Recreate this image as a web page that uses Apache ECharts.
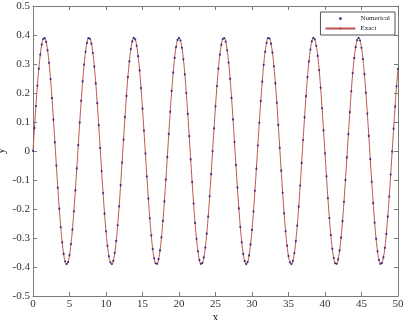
<!DOCTYPE html>
<html><head><meta charset="utf-8">
<script src="https://cdn.jsdelivr.net/npm/echarts@6/dist/echarts.min.js"></script>
<style>html,body{margin:0;padding:0;background:#fff}#c{width:407px;height:320px}</style>
</head><body><div id="c"></div>
<script>
var xs = [0,0.2,0.4,0.6,0.8,1,1.2,1.4,1.6,1.8,2,2.2,2.4,2.6,2.8,3,3.2,3.4,3.6,3.8,4,4.2,4.4,4.6,4.8,5,5.2,5.4,5.6,5.8,6,6.2,6.4,6.6,6.8,7,7.2,7.4,7.6,7.8,8,8.2,8.4,8.6,8.8,9,9.2,9.4,9.6,9.8,10,10.2,10.4,10.6,10.8,11,11.2,11.4,11.6,11.8,12,12.2,12.4,12.6,12.8,13,13.2,13.4,13.6,13.8,14,14.2,14.4,14.6,14.8,15,15.2,15.4,15.6,15.8,16,16.2,16.4,16.6,16.8,17,17.2,17.4,17.6,17.8,18,18.2,18.4,18.6,18.8,19,19.2,19.4,19.6,19.8,20,20.2,20.4,20.6,20.8,21,21.2,21.4,21.6,21.8,22,22.2,22.4,22.6,22.8,23,23.2,23.4,23.6,23.8,24,24.2,24.4,24.6,24.8,25,25.2,25.4,25.6,25.8,26,26.2,26.4,26.6,26.8,27,27.2,27.4,27.6,27.8,28,28.2,28.4,28.6,28.8,29,29.2,29.4,29.6,29.8,30,30.2,30.4,30.6,30.8,31,31.2,31.4,31.6,31.8,32,32.2,32.4,32.6,32.8,33,33.2,33.4,33.6,33.8,34,34.2,34.4,34.6,34.8,35,35.2,35.4,35.6,35.8,36,36.2,36.4,36.6,36.8,37,37.2,37.4,37.6,37.8,38,38.2,38.4,38.6,38.8,39,39.2,39.4,39.6,39.8,40,40.2,40.4,40.6,40.8,41,41.2,41.4,41.6,41.8,42,42.2,42.4,42.6,42.8,43,43.2,43.4,43.6,43.8,44,44.2,44.4,44.6,44.8,45,45.2,45.4,45.6,45.8,46,46.2,46.4,46.6,46.8,47,47.2,47.4,47.6,47.8,48,48.2,48.4,48.6,48.8,49,49.2,49.4,49.6,49.8,50];
var ys = [
0,0.079,0.155,0.225,0.284,0.332,0.367,0.386,0.389,0.376,0.347,0.304,0.248,0.182,0.108,0.030,-0.050,-0.127,-0.199,-0.263,-0.315,-0.355,-0.381,-0.390,-0.383,-0.359,-0.321,-0.271,-0.208,-0.136,-0.060,
0.020,0.098,0.173,0.240,0.298,0.342,0.373,0.389,0.387,0.370,0.338,0.291,0.233,0.165,0.089,0.010,-0.069,-0.145,-0.216,-0.277,-0.327,-0.363,-0.384,-0.390,-0.379,-0.351,-0.310,-0.256,-0.191,-0.118,-0.040,
0.039,0.117,0.190,0.255,0.309,0.351,0.378,0.390,0.385,0.363,0.327,0.278,0.217,0.146,0.070,-0.009,-0.088,-0.164,-0.232,-0.291,-0.338,-0.370,-0.387,-0.389,-0.373,-0.343,-0.298,-0.241,-0.174,-0.099,-0.021,
0.059,0.135,0.207,0.270,0.321,0.359,0.383,0.390,0.381,0.356,0.316,0.264,0.200,0.128,0.051,-0.029,-0.107,-0.181,-0.248,-0.303,-0.346,-0.376,-0.389,-0.386,-0.367,-0.333,-0.285,-0.226,-0.156,-0.080,-0.001,
0.078,0.154,0.224,0.284,0.332,0.366,0.386,0.389,0.377,0.347,0.305,0.249,0.183,0.109,0.031,-0.049,-0.126,-0.198,-0.262,-0.315,-0.355,-0.380,-0.390,-0.383,-0.360,-0.322,-0.272,-0.209,-0.137,-0.061,
0.019,0.097,0.172,0.239,0.297,0.342,0.373,0.389,0.388,0.370,0.339,0.292,0.234,0.166,0.090,0.011,-0.068,-0.144,-0.215,-0.277,-0.326,-0.362,-0.384,-0.390,-0.379,-0.352,-0.311,-0.257,-0.192,-0.119,-0.041,
0.038,0.116,0.189,0.255,0.309,0.350,0.378,0.390,0.385,0.363,0.328,0.279,0.218,0.147,0.071,-0.008,-0.087,-0.163,-0.231,-0.290,-0.337,-0.369,-0.387,-0.389,-0.374,-0.343,-0.299,-0.242,-0.175,-0.100,-0.022,
0.058,0.134,0.206,0.269,0.320,0.358,0.382,0.390,0.381,0.356,0.317,0.265,0.201,0.129,0.052,-0.028,-0.106,-0.180,-0.247,-0.303,-0.346,-0.376,-0.389,-0.386,-0.367,-0.334,-0.286,-0.226,-0.157,-0.081,-0.002,
0.077,0.153,0.223,0.283];
var xTicks = [0,5,10,15,20,25,30,35,40,45,50];
var yTicks = [-0.5,-0.4,-0.3,-0.2,-0.1,0,0.1,0.2,0.3,0.4,0.5];
var legendNames = ['Numerical','Exact'];

var pts = xs.map(function(x,i){return [x, ys[i]];});
var font = 'Liberation Serif';
var axisCol = '#7a7a7a';
var chart = echarts.init(document.getElementById('c'), null, {renderer:'canvas'});
var baseX = {type:'value', min:xTicks[0], max:xTicks[xTicks.length-1], interval:5,
  axisLine:{show:true,onZero:false,lineStyle:{color:axisCol,width:1}},
  axisTick:{show:true,inside:true,length:4,lineStyle:{color:axisCol}},
  splitLine:{show:false}};
var baseY = {type:'value', min:yTicks[0], max:yTicks[yTicks.length-1], interval:0.1,
  axisLine:{show:true,onZero:false,lineStyle:{color:axisCol,width:1}},
  axisTick:{show:true,inside:true,length:4,lineStyle:{color:axisCol}},
  splitLine:{show:false}};
chart.setOption({
  animation:false,
  backgroundColor:'#fff',
  grid:{left:33,right:9,top:6,bottom:24,containLabel:false,outerBoundsMode:'none'},
  xAxis:[
    Object.assign({}, baseX, {position:'bottom', name:'x', nameLocation:'middle', nameGap:16, nameMoveOverlap:false,
      nameTextStyle:{fontFamily:font,fontSize:12,color:'#222'},
      axisLabel:{fontFamily:font,fontSize:11,color:'#333',margin:3}}),
    Object.assign({}, baseX, {position:'top', axisLabel:{show:false}})
  ],
  yAxis:[
    Object.assign({}, baseY, {position:'left', name:'y', nameLocation:'middle', nameGap:26, nameRotate:90, nameMoveOverlap:false,
      nameTextStyle:{fontFamily:font,fontSize:12,color:'#222'},
      axisLabel:{fontFamily:font,fontSize:11,color:'#333',margin:3,
        formatter:function(v){return String(Math.round(v*10)/10);}}}),
    Object.assign({}, baseY, {position:'right', axisLabel:{show:false}})
  ],
  legend:{
    data:[{name:legendNames[0],icon:'circle'},{name:legendNames[1]}],
    orient:'vertical', right:12, top:12, itemWidth:30, itemHeight:3, itemGap:3,
    padding:[3,5,3,4], borderColor:'#555', borderWidth:1, backgroundColor:'#fff',
    textStyle:{fontFamily:font,fontSize:7,color:'#222'}
  },
  series:[
    {name:legendNames[1], type:'line', data:pts, smooth:true, showSymbol:false, symbol:'none',
     lineStyle:{color:'#c0504d',width:1}, itemStyle:{color:'#c0504d'}, z:2},
    {name:legendNames[0], type:'scatter', data:pts, symbol:'circle', symbolSize:2.2,
     itemStyle:{color:'#1a1a70'}, z:3}
  ]
});
</script></body></html>
